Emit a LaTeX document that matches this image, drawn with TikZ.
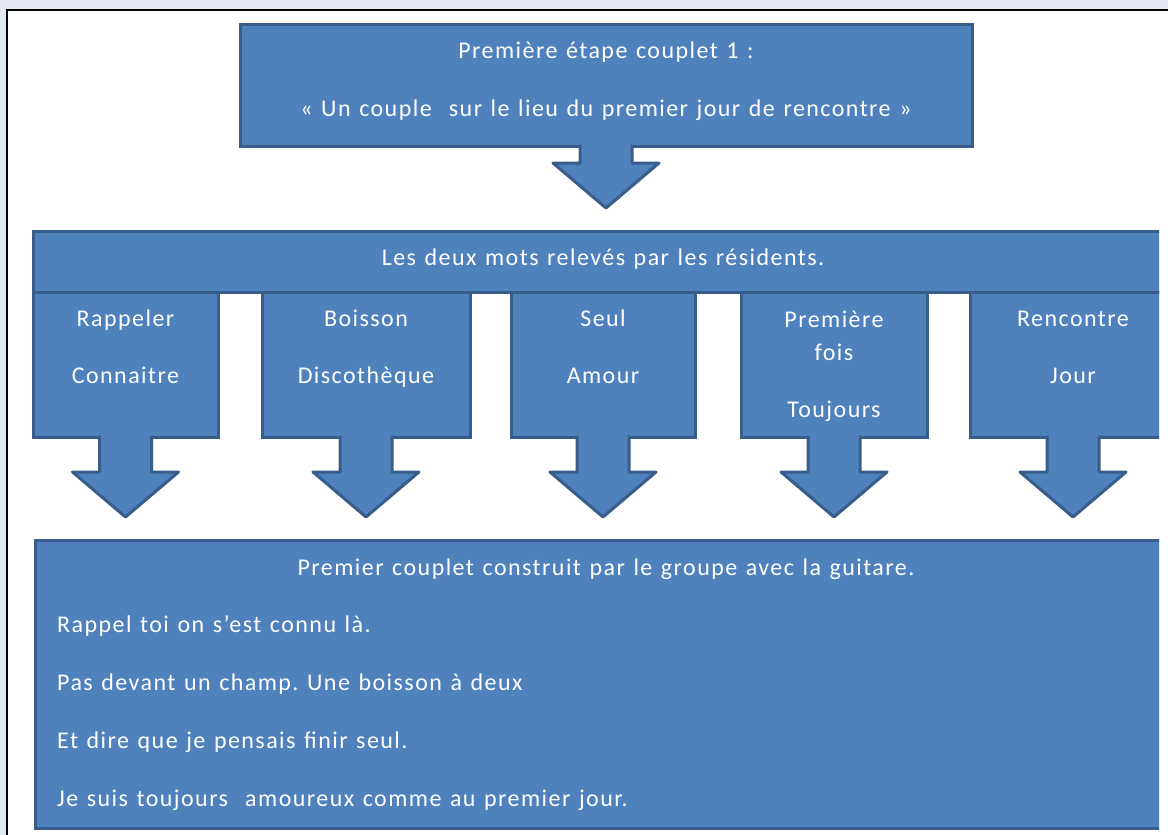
\documentclass[tikz,border=0pt]{standalone}
\usepackage{fontspec}
\setmainfont{Carlito}[LetterSpace=6, WordSpace=1.25]
\usetikzlibrary{positioning,calc}

\definecolor{bleu}{HTML}{4F81BD}
\definecolor{bord}{HTML}{385D8A}
\definecolor{fond}{HTML}{E3E7F1}

% fleche bloc de la boite #1 vers la boite #2
\newcommand{\flechebloc}[2]{%
  \fill[bleu] let \p1=(#1.south), \p2=(#2.north) in
    (\x1-26pt,\y1+2pt) -- (\x1-26pt,\y2+68pt) -- (\x1-53pt,\y2+68pt)
    -- (\x1,\y2+23pt) -- (\x1+53pt,\y2+68pt) -- (\x1+26pt,\y2+68pt)
    -- (\x1+26pt,\y1+2pt) -- cycle;
  \draw[fleche] let \p1=(#1.south), \p2=(#2.north) in
    (\x1-26pt,\y1+1.5pt) -- (\x1-26pt,\y2+68pt) -- (\x1-53pt,\y2+68pt)
    -- (\x1,\y2+23pt) -- (\x1+53pt,\y2+68pt) -- (\x1+26pt,\y2+68pt)
    -- (\x1+26pt,\y1+1.5pt);
}

\begin{document}
\frenchspacing
\begin{tikzpicture}[x=1pt, y=-1pt,
    bloc/.style={draw=bord, fill=bleu, line width=3pt, inner sep=0pt,
      outer sep=0pt},
    fleche/.style={draw=bord, line width=3pt, line join=round},
    texte/.style={text=white, font=\fontsize{24}{33}\selectfont,
      align=center, anchor=base, inner sep=0pt}]
  \useasboundingbox (0,0) rectangle (1168,835);
  \fill[fond] (0,0) rectangle (1168,835);
  \fill[white] (7,9.5) rectangle (1170,840);
  \draw[line width=2pt] (7,840) -- (7,9.5) -- (1170,9.5);
  \clip (0,0) rectangle (1159,835);

  % premiere etape (base = derniere ligne)
  \node[bloc, minimum width=732pt, minimum height=122pt] (etape) at (606,85) {};
  \node[texte] (etape-txt) at ($(etape.north)+(0,92)$)
    {Première étape couplet 1 :\\[25pt]« Un couple\ \ sur le lieu du premier jour de rencontre »};

  % les mots
  \node[bloc, minimum width=185pt, minimum height=146pt] (r1) at (125.5,364) {};
  \node[bloc, minimum width=208pt, minimum height=146pt] (r2) at (366,364) {};
  \node[bloc, minimum width=184pt, minimum height=146pt] (r3) at (603,364) {};
  \node[bloc, minimum width=186pt, minimum height=146pt] (r4) at (834,364) {};
  \node[bloc, minimum width=206pt, minimum height=146pt] (r5) at (1073,364) {};
  \node[bloc, minimum width=1150pt, minimum height=61pt] (mots) at (608,261.5) {};
  \node[texte] (mots-txt) at ($(mots.north)+(-5,34)$)
    {Les deux mots relevés par les résidents.};
  \node[texte] (r1-txt) at ($(r1.north)+(0,92)$) {Rappeler\\[24pt]Connaitre};
  \node[texte] (r2-txt) at ($(r2.north)+(0,92)$) {Boisson\\[24pt]Discothèque};
  \node[texte] (r3-txt) at ($(r3.north)+(0,92)$) {Seul\\[24pt]Amour};
  \node[texte] (r4-txt) at ($(r4.north)+(0,126)$) {Première\\fois\\[24pt]Toujours};
  \node[texte] (r5-txt) at ($(r5.north)+(0,92)$) {Rencontre\\[24pt]Jour};

  % couplet
  \node[bloc, minimum width=1150pt, minimum height=288pt] (couplet) at (610,684) {};
  \node[texte] (couplet-titre) at ($(etape.south |- couplet.north)+(0,35)$)
    {Premier couplet construit par le groupe avec la guitare.};
  \node[texte, align=left, anchor=base west] (couplet-txt)
    at ($(couplet.north west)+(22,266)$)
    {Rappel toi on s’est connu là.\\[24.75pt]
     Pas devant un champ. Une boisson à deux\\[24.75pt]
     Et dire que je pensais finir seul.\\[24.75pt]
     Je suis toujours\ \ amoureux comme au premier jour.};

  % fleches
  \flechebloc{etape}{mots}
  \foreach \r in {r1,r2,r3,r4,r5}
    {\flechebloc{\r}{couplet}}
\end{tikzpicture}
\end{document}
